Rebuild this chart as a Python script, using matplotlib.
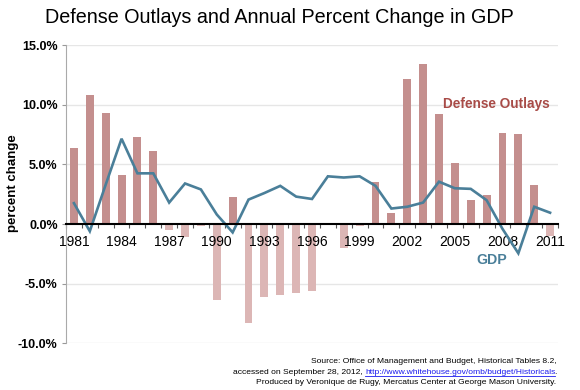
import matplotlib.pyplot as plt
from matplotlib.lines import Line2D

plt.rcParams['font.family'] = ['Liberation Sans', 'DejaVu Sans']

years = list(range(1981, 2012))
defense = [6.35, 10.8, 9.3, 4.1, 7.3, 6.15, -0.5, -1.1, -0.2, -6.4,
           2.3, -8.25, -6.1, -5.95, -5.8, -5.6, -0.1, -2.0, -0.2, 3.55,
           0.95, 12.15, 13.45, 9.2, 5.15, 2.0, 2.4, 7.65, 7.55, 3.25, -1.0]
gdp = [1.75, -0.6, 3.3, 7.15, 4.25, 4.25, 1.8, 3.4, 2.9, 0.8,
       -0.7, 2.05, 2.6, 3.2, 2.3, 2.1, 4.0, 3.9, 4.0, 3.2,
       1.3, 1.45, 1.8, 3.55, 3.0, 2.95, 2.0, -0.4, -2.45, 1.45, 0.95]
label_years = years[::3]

pos_color = '#c48f8e'
neg_color = '#dcb6b5'
line_color = '#4a7f99'

fig = plt.figure(figsize=(5.8, 3.9), dpi=100)
ax = fig.add_axes([0.1138, 0.1195, 0.8483, 0.765])

x = list(range(len(years)))
colors = [pos_color if v >= 0 else neg_color for v in defense]
ax.bar(x, defense, width=0.5, color=colors, zorder=1)
ax.plot(x, gdp, color=line_color, lw=1.9, zorder=3, solid_joinstyle='miter')

ax.set_xlim(-0.5, len(years) - 0.5)
ax.set_ylim(-10, 15)
ax.set_yticks([-10, -5, 0, 5, 10, 15])
ax.set_yticklabels(['-10.0%', '-5.0%', '0.0%', '5.0%', '10.0%', '15.0%'],
                   fontweight='bold', fontsize=9)
for v in [-10, -5, 5, 10, 15]:
    ax.axhline(v, color='#e6e6e6', lw=1.0, zorder=0)

ax.set_xticks([years.index(y) for y in label_years])
ax.set_xticklabels([str(y) for y in label_years], fontsize=9.5)
ax.set_xticks([i - 0.5 for i in range(len(years) + 1)], minor=True)
ax.tick_params(axis='x', which='major', length=0, pad=8)
ax.tick_params(axis='x', which='minor', length=3, width=0.8, color='#555555')
ax.tick_params(axis='y', length=3, width=0.8, color='#999999', pad=3)

ax.spines['top'].set_visible(False)
ax.spines['right'].set_visible(False)
ax.spines['left'].set_color('#aaaaaa')
ax.spines['left'].set_linewidth(0.8)
ax.spines['bottom'].set_position(('data', 0))
ax.spines['bottom'].set_linewidth(1.5)
ax.spines['bottom'].set_zorder(4)

ax.text(30.0, 10.1, 'Defense Outlays', color='#a84b47', fontweight='bold',
        fontsize=9.8, ha='right', va='center')
ax.text(26.3, -3.0, 'GDP', color=line_color, fontweight='bold',
        fontsize=10.2, ha='center', va='center')

fig.text(0.481, 0.955, 'Defense Outlays and Annual Percent Change in GDP',
         fontsize=14.2, ha='center', va='center')
fig.text(0.022, 0.53, 'percent change', rotation=90, fontweight='bold',
         fontsize=9.5, ha='center', va='center')

# source note, url in blue with underline
src_size = 6.1
xr = 0.959
fig.text(xr, 0.072, 'Source: Office of Management and Budget, Historical Tables 8.2,',
         fontsize=src_size, ha='right', va='center')
dot = fig.text(xr, 0.046, '.', fontsize=src_size, ha='right', va='center')
url = fig.text(0, 0, 'http://www.whitehouse.gov/omb/budget/Historicals',
               fontsize=src_size, color='#1a1aee', ha='right', va='baseline')
fig.text(xr, 0.020, 'Produced by Veronique de Rugy, Mercatus Center at George Mason University.',
         fontsize=src_size, ha='right', va='center')

fig.canvas.draw()
r = fig.canvas.get_renderer()
db = dot.get_window_extent(r)
W, H = fig.bbox.width, fig.bbox.height
base_y = 0.046 - 0.006
url.set_position(((db.x0 + 1.5) / W, base_y))
fig.canvas.draw()
ub = url.get_window_extent(r)
fig.text(ub.x0 / W, 0.046, 'accessed on September 28, 2012, ', fontsize=src_size,
         ha='right', va='center')
fig.add_artist(Line2D([ub.x0 / W, ub.x1 / W], [base_y - 0.004, base_y - 0.004],
                      transform=fig.transFigure, color='#1a1aee', lw=0.6))

fig.savefig('out.png', dpi=100)
